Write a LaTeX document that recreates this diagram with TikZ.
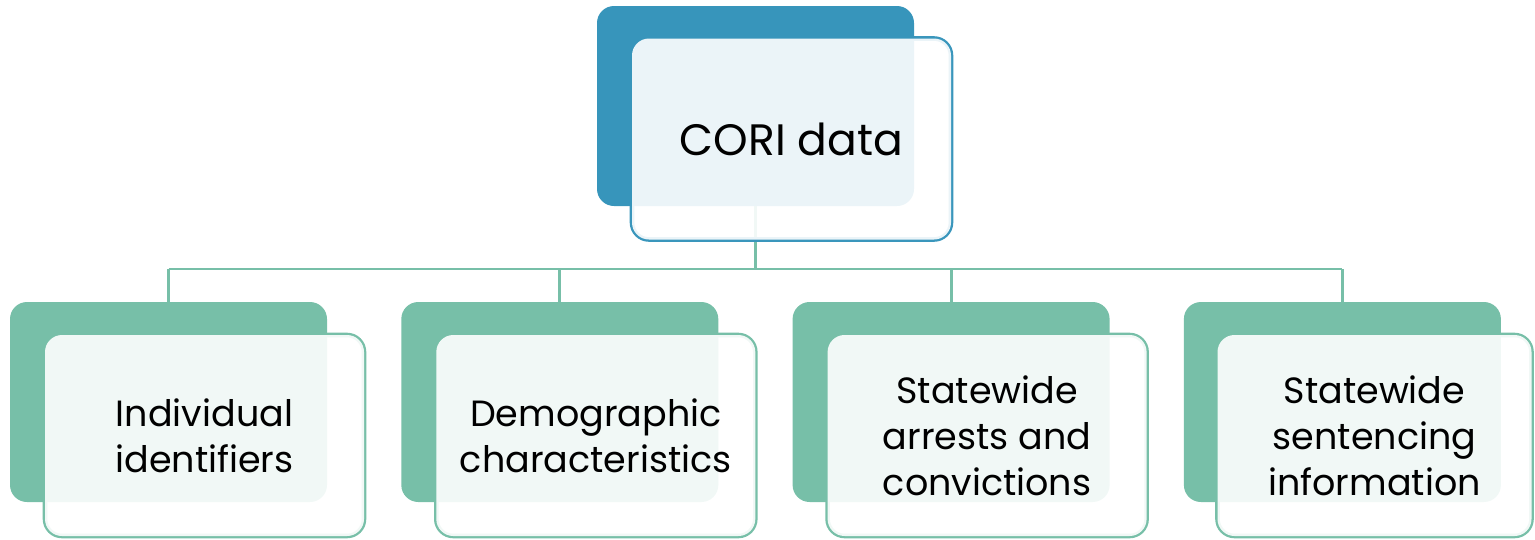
\documentclass[tikz,border=0pt]{standalone}
\usepackage{fontspec}
\setmainfont{Poppins}
\pgfdeclarelayer{background}
\pgfsetlayers{background,main}
\definecolor{topblue}{HTML}{3795BB}
\definecolor{topline}{HTML}{3A96BC}
\definecolor{subgreen}{HTML}{77BFA8}
\tikzset{
  backbox/.style={rectangle, rounded corners=17pt, inner sep=0pt, minimum width=317pt, minimum height=200pt, fill=#1, draw=none},
  frontline/.style={rectangle, rounded corners=17pt, inner sep=0pt, minimum width=319pt, minimum height=201pt, draw=#1, line width=4.6pt},
  frontfill/.style={rectangle, rounded corners=17pt, inner sep=0pt, minimum width=319pt, minimum height=201pt, fill=white, fill opacity=0.9, text opacity=1, align=center},
  conn/.style={draw=subgreen, line width=2.8pt},
  subtext/.style={font=\fontsize{36.5}{46}\selectfont},
  toptext/.style={font=\fontsize{44}{50}\selectfont}
}
\begin{document}
\begin{tikzpicture}[x=1pt,y=-1pt]
\useasboundingbox (0,0) rectangle (1535,539);
% top box
\node[frontline=topline] (t0o) at (791.5,139) {};
\node[backbox=topblue] (t0) at (755.5,106) {};
\node[frontfill, toptext] (t0f) at (791.5,139) {CORI data};
% sub boxes
\foreach \i/\txt/\w in {1/{Individual\\identifiers}/319,2/{Demographic\\characteristics}/319,3/{Statewide\\arrests and\\convictions}/319,4/{Statewide\\sentencing\\information}/314}{
  \pgfmathsetmacro{\bx}{168.5+391.3*(\i-1)}
  \pgfmathsetmacro{\fx}{\i==4 ? 1374.5 : 204.5+391.3*(\i-1)}
  \node[frontline=subgreen, minimum width=\w pt] (s\i o) at (\fx,435.5) {};
  \node[backbox=subgreen] (s\i) at (\bx,402) {};
  \node[frontfill, subtext, minimum width=\w pt] (s\i f) at (\fx,435.5) {\txt};
}
\coordinate (bus) at (0,269);
\begin{pgfonlayer}{background}
  \draw[conn] (t0.center) -- (t0.center |- bus);
  \draw[conn] (s1.center |- bus) -- (s4.center |- bus);
  \foreach \i in {1,2,3,4}{
    \draw[conn] (s\i.center |- bus) -- (s\i.center);
  }
\end{pgfonlayer}
\end{tikzpicture}
\end{document}
